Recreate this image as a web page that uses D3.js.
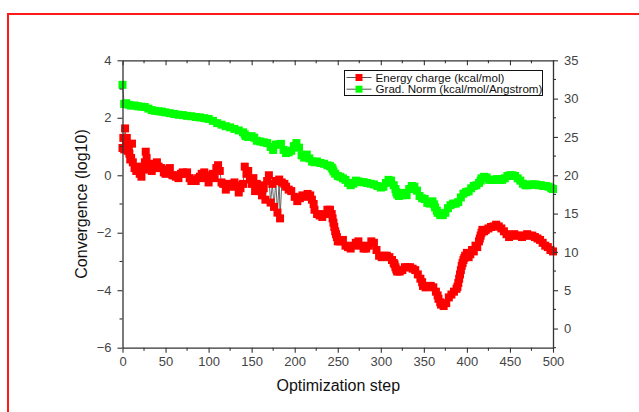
<!DOCTYPE html>
<html><head><meta charset="utf-8">
<script src="https://cdn.jsdelivr.net/npm/d3@7/dist/d3.min.js"></script>
<style>body{margin:0;background:#fff}svg{display:block;font-family:"Liberation Sans",Arial,sans-serif}</style>
</head><body><svg id="c" width="639" height="412"></svg>
<script>
// ---- data ----
const energySteps = [0,1,2,3,4,5,6,7,8,9,10,11,12,14,16,18,20,22,24,26,27,28,30,32,34,36,38,40,42,45,48,50,52,55,58,60,62,65,68,70,72,75,78,80,82,85,88,90,92,95,97,100,102,105,107,109,111,113,115,117,120,122,125,127,130,132,135,137,140,142,144,146,148,150,152,154,156,158,160,162,164,166,168,170,172,174,176,178,180,182,183,185,188,190,193,196,200,203,206,209,212,215,218,220,222,223,226,229,232,235,238,241,243,244,245,246,247,248,249,250,253,256,259,262,265,268,271,274,277,280,283,286,289,292,295,298,301,304,307,310,313,315,316,317,318,319,322,325,328,331,334,337,340,343,346,348,349,352,355,358,361,364,366,367,369,370,373,376,379,382,385,388,389,390,391,392,393,394,395,396,397,398,400,402,404,406,408,410,412,414,415,416,417,418,419,420,422,425,428,431,434,437,440,443,446,449,452,455,458,461,464,467,470,473,476,479,482,485,488,491,494,497,500];
const energyLog = [0.95,1.3,0.9,1.63,1.1,1.3,0.85,1.0,0.75,0.55,0.6,1.1,0.45,0.25,0.15,0.3,0.05,-0.05,0.2,0.45,0.82,0.6,0.35,0.2,0.15,0.4,0.25,0.45,0.3,0.25,0.1,0.05,0.2,0.25,0.0,0.0,-0.05,-0.1,0.05,0.1,0.05,0.1,-0.1,-0.2,-0.15,-0.2,-0.1,-0.05,0.05,0.1,-0.1,-0.25,0.0,0.05,-0.1,0.25,0.35,0.15,-0.25,-0.3,-0.5,-0.35,-0.3,-0.4,-0.25,-0.35,-0.6,-0.45,-0.3,0.3,0.05,0.15,-0.15,-0.3,-0.1,-0.55,-0.3,-0.55,-0.35,-0.7,-0.45,-0.85,-0.2,0.0,-0.95,-0.3,-1.1,-0.2,-1.3,-0.15,-1.5,-0.25,-0.3,-0.4,-0.5,-0.55,-0.75,-0.9,-0.8,-0.7,-0.75,-0.65,-0.7,-0.85,-1.0,-1.2,-1.35,-1.4,-1.45,-1.35,-1.2,-1.2,-1.35,-1.5,-1.65,-1.8,-1.95,-2.05,-2.15,-2.3,-2.3,-2.25,-2.45,-2.5,-2.55,-2.45,-2.35,-2.3,-2.45,-2.55,-2.55,-2.45,-2.3,-2.35,-2.6,-2.8,-2.85,-2.8,-2.8,-2.85,-2.95,-3.05,-3.1,-3.2,-3.28,-3.35,-3.35,-3.3,-3.2,-3.2,-3.2,-3.25,-3.3,-3.45,-3.6,-3.72,-3.85,-3.9,-3.85,-3.85,-3.9,-4.05,-4.18,-4.3,-4.42,-4.5,-4.55,-4.45,-4.25,-4.15,-4.05,-3.95,-3.88,-3.75,-3.6,-3.45,-3.3,-3.15,-3.05,-2.95,-2.88,-2.8,-2.7,-2.85,-2.75,-2.6,-2.65,-2.45,-2.5,-2.3,-2.2,-2.1,-2.0,-1.9,-1.92,-1.95,-1.9,-1.85,-1.8,-1.78,-1.72,-1.78,-1.85,-1.95,-2.05,-2.15,-2.1,-2.05,-2.1,-2.1,-2.15,-2.1,-2.05,-2.1,-2.1,-2.15,-2.2,-2.25,-2.35,-2.45,-2.5,-2.6,-2.65];
const gradSteps = [0,2,4,7,10,14,18,22,26,30,34,38,42,46,50,55,60,65,70,75,80,85,90,95,100,105,110,115,120,125,130,135,140,142,143,146,150,153,156,160,164,168,172,175,178,181,184,187,190,193,196,199,202,205,208,211,214,217,220,223,226,230,234,238,241,243,244,245,247,250,253,256,259,262,265,268,271,274,277,280,284,288,292,296,300,303,306,309,312,315,317,318,319,321,324,327,330,333,336,339,342,345,348,351,354,357,360,362,363,365,366,369,372,375,378,381,384,387,390,393,396,399,402,405,408,411,414,416,417,420,423,426,429,432,435,438,441,444,447,450,453,456,459,462,465,468,471,474,477,480,483,486,489,492,495,498,500];
const gradNorm = [31.8,29.3,29.4,29.2,29.1,29.1,29.0,28.95,28.9,28.7,28.5,28.4,28.35,28.3,28.2,28.1,28.0,27.9,27.85,27.75,27.7,27.6,27.55,27.45,27.35,27.1,26.8,26.6,26.4,26.25,26.05,25.85,25.6,25.35,25.1,25.0,25.1,24.9,24.5,24.4,24.3,24.2,23.7,23.3,24.0,24.0,24.1,23.3,22.9,23.0,23.2,23.8,24.2,23.6,22.6,22.3,22.7,22.2,21.8,21.7,21.8,21.6,21.5,21.3,21.2,21.0,20.8,20.5,20.2,19.9,19.8,19.6,19.4,19.0,18.7,18.9,19.3,19.2,19.1,19.1,19.0,18.9,18.8,18.6,18.4,18.5,19.0,19.4,19.3,18.7,18.2,17.8,17.5,17.3,17.4,17.7,17.4,18.2,18.6,18.5,18.0,17.3,17.0,16.9,16.4,16.3,16.6,16.2,15.8,15.4,15.1,14.8,14.8,15.1,15.7,16.1,16.3,16.3,16.5,17.1,17.6,17.8,17.9,18.3,18.6,18.7,19.0,19.3,19.6,19.8,19.7,19.4,19.4,19.4,19.5,19.4,19.4,19.6,19.9,20.0,20.0,19.9,19.6,19.3,18.9,18.7,18.7,18.8,18.8,18.8,18.7,18.7,18.6,18.6,18.5,18.3,18.2];
const xTicks = [0,50,100,150,200,250,300,350,400,450,500];
const leftTicks = [-6,-4,-2,0,2,4];
const rightTicks = [0,5,10,15,20,25,30,35];
const legendLabels = ["Energy charge (kcal/mol)","Grad. Norm (kcal/mol/Angstrom)"];
const seriesColors = ["#ff0000","#00ff00"];

// ---- layout ----
const svg = d3.select("#c");
const L = 122.5, R = 553, T = 60.3, B = 347.7;
const x = d3.scaleLinear().domain([0,500]).range([L,R]);
const yL = d3.scaleLinear().domain([-6,4]).range([B,T]);
const yR = d3.scaleLinear().domain([-2.5,35]).range([B,T]);
const axisColor = "#333", labelColor = "#444";

// red frame
svg.append("path").attr("d",`M8,412 L8,14 L639,14`).attr("fill","none").attr("stroke","#ff1a1a").attr("stroke-width",2);

// series
const energy = energySteps.map((s,i)=>[s,energyLog[i]]);
const grad = gradSteps.map((s,i)=>[s,gradNorm[i]]);
const g = svg.append("g");
function drawSeries(data, ys, color){
  g.append("path").datum(data).attr("fill","none").attr("stroke","#555").attr("stroke-width",0.9)
    .attr("d", d3.line().x(d=>x(d[0])).y(d=>ys(d[1])));
  const sz = 8;
  g.selectAll(null).data(data).enter().append("rect")
    .attr("x",d=>x(d[0])-sz/2).attr("y",d=>ys(d[1])-sz/2).attr("width",sz).attr("height",sz)
    .attr("fill",color);
}
drawSeries(energy, yL, seriesColors[0]);
drawSeries(grad, yR, seriesColors[1]);

// axes
function styleAxis(sel){
  sel.select(".domain").attr("stroke",axisColor).attr("stroke-width",1.3);
  sel.selectAll(".tick line").attr("stroke",axisColor).attr("stroke-width",1.1);
  sel.selectAll("text").attr("fill",labelColor).attr("font-size","13px").attr("font-family","Liberation Sans, Arial, sans-serif");
}
const xMinor = d3.range(25,500,50);
const axB = svg.append("g").attr("transform",`translate(0,${B})`)
  .call(d3.axisBottom(x).tickValues(xTicks).tickSize(5).tickSizeOuter(0).tickPadding(4));
styleAxis(axB);
axB.selectAll(null).data(xMinor).enter().append("line").attr("x1",d=>x(d)).attr("x2",d=>x(d)).attr("y1",0).attr("y2",3).attr("stroke",axisColor).attr("stroke-width",1.1);

const axT = svg.append("g").attr("transform",`translate(0,${T})`)
  .call(d3.axisTop(x).tickValues(xTicks).tickSize(-5).tickSizeOuter(0).tickFormat(""));
styleAxis(axT);
axT.selectAll(null).data(xMinor).enter().append("line").attr("x1",d=>x(d)).attr("x2",d=>x(d)).attr("y1",0).attr("y2",3).attr("stroke",axisColor).attr("stroke-width",1.1);

const axL = svg.append("g").attr("transform",`translate(${L},0)`)
  .call(d3.axisLeft(yL).tickValues(leftTicks).tickSize(5).tickSizeOuter(0).tickPadding(6));
styleAxis(axL);
axL.selectAll(null).data([-5,-3,-1,1,3]).enter().append("line").attr("x1",0).attr("x2",-3).attr("y1",d=>yL(d)).attr("y2",d=>yL(d)).attr("stroke",axisColor).attr("stroke-width",1.1);

const axR = svg.append("g").attr("transform",`translate(${R},0)`)
  .call(d3.axisRight(yR).tickValues(rightTicks).tickSize(5).tickSizeOuter(0).tickPadding(6));
styleAxis(axR);
axR.selectAll(null).data([-2.5,2.5,7.5,12.5,17.5,22.5,27.5,32.5]).enter().append("line").attr("x1",0).attr("x2",3).attr("y1",d=>yR(d)).attr("y2",d=>yR(d)).attr("stroke",axisColor).attr("stroke-width",1.1);

// titles
svg.append("text").attr("x",(L+R)/2+0.5).attr("y",391).attr("text-anchor","middle").attr("font-size","16px").attr("fill","#111").text("Optimization step");
svg.append("text").attr("transform",`translate(87,${(T+B)/2}) rotate(-90)`).attr("text-anchor","middle").attr("font-size","16px").attr("fill","#111").text("Convergence (log10)");

// legend
const lg = svg.append("g");
lg.append("rect").attr("x",344.5).attr("y",70.5).attr("width",198).attr("height",25).attr("fill","#fff").attr("stroke","#111").attr("stroke-width",1);
legendLabels.forEach((t,i)=>{
  const cy = 77.5 + i*11.7;
  lg.append("line").attr("x1",346.5).attr("x2",371.5).attr("y1",cy).attr("y2",cy).attr("stroke","#555").attr("stroke-width",1);
  lg.append("rect").attr("x",355.5).attr("y",cy-3.5).attr("width",7).attr("height",7).attr("fill",seriesColors[i]);
  lg.append("text").attr("x",375.5).attr("y",cy+4).attr("font-size","11.6px").attr("fill","#111").text(t);
});
</script></body></html>
